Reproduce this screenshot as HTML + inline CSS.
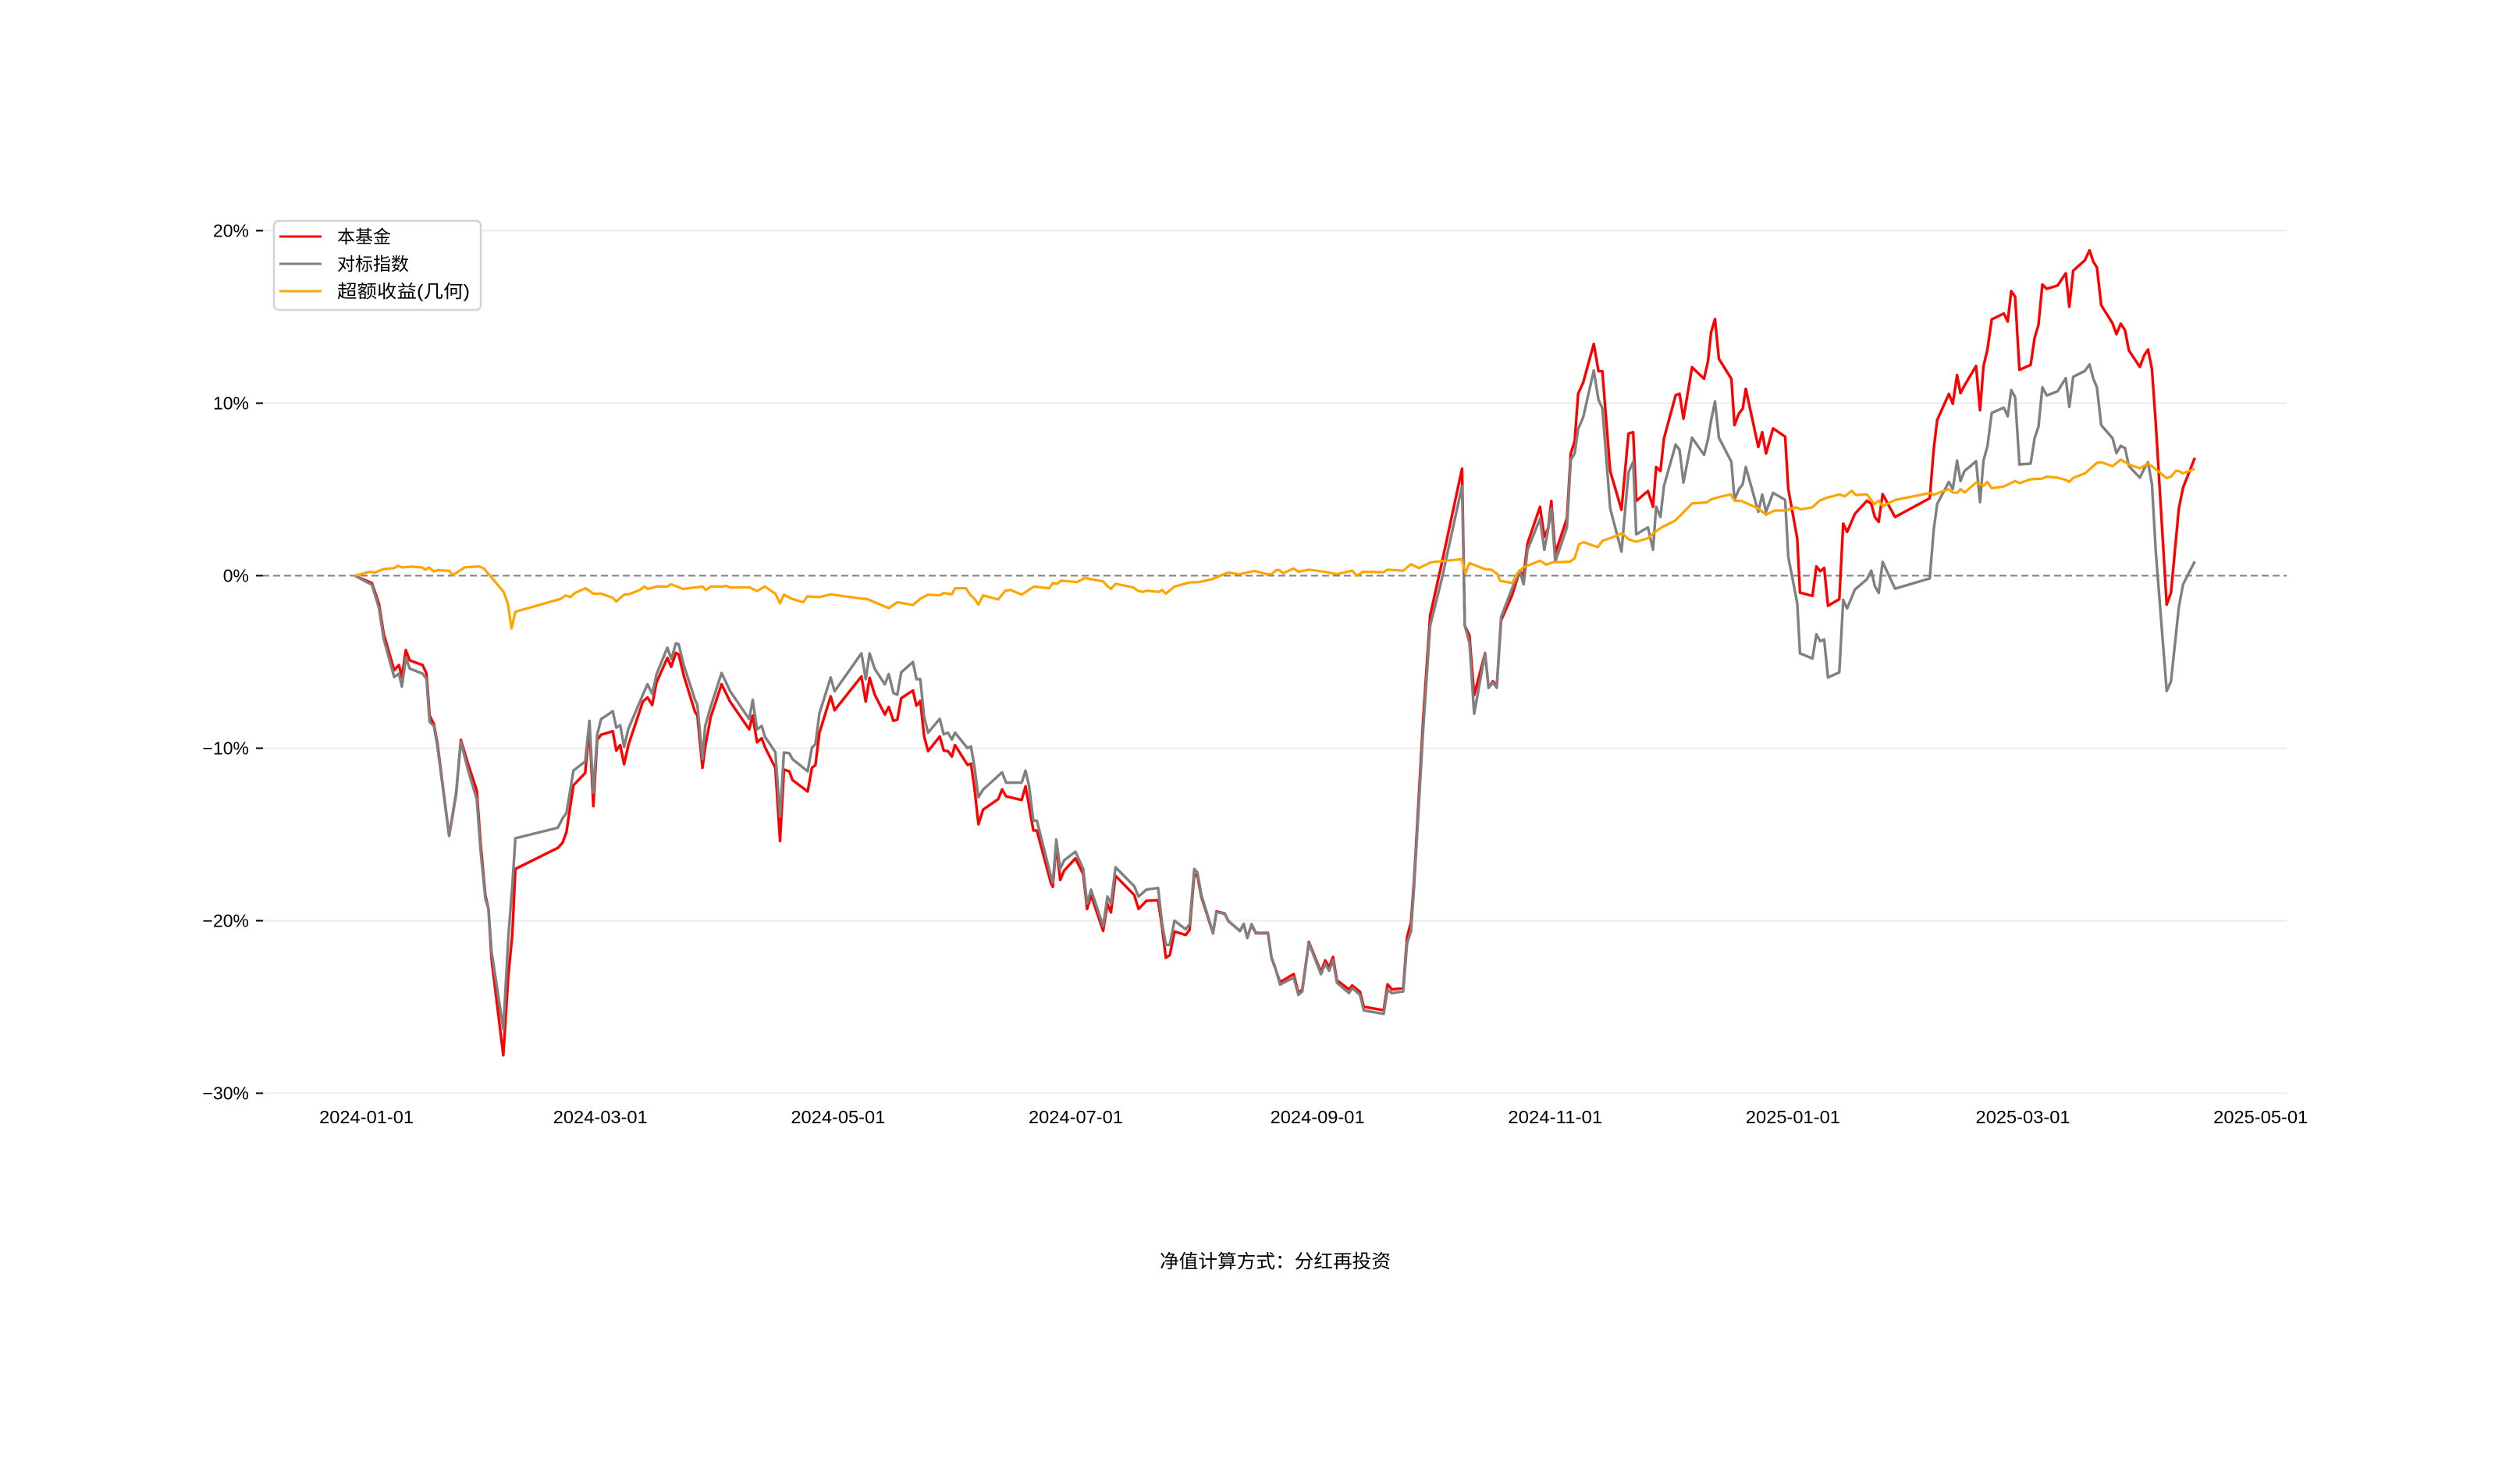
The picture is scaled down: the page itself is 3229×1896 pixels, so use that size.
<!DOCTYPE html>
<html><head><meta charset="utf-8"><title>净值走势</title>
<style>
html,body{margin:0;padding:0;background:#fff;}
svg{display:block;font-family:"Liberation Sans","Noto Sans CJK SC",sans-serif;}
</style></head>
<body>
<svg id="chart" width="3229" height="1896" viewBox="0 0 3229 1896" xmlns="http://www.w3.org/2000/svg">
<rect width="3229" height="1896" fill="#fff"/>
<g id="grid"></g>
<g id="yaxis"></g>
<g id="xaxis"></g>
<g id="series"></g>
<g>
<rect x="351" y="283" width="265" height="114" rx="6" fill="#fff" fill-opacity="0.85" stroke="#d3d3d3" stroke-width="2.5"/>
<line x1="358" y1="303" x2="412" y2="303" stroke="#ff0000" stroke-width="3"/>
<text x="432" y="311" font-size="23" fill="#000">本基金</text>
<line x1="358" y1="338" x2="412" y2="338" stroke="#808080" stroke-width="3"/>
<text x="432" y="346" font-size="23" fill="#000">对标指数</text>
<line x1="358" y1="373" x2="412" y2="373" stroke="#ffa500" stroke-width="3"/>
<text x="432" y="381" font-size="23" fill="#000" textLength="170" lengthAdjust="spacingAndGlyphs">超额收益(几何)</text>
</g>
<text x="1634" y="1624" font-size="24" text-anchor="middle" fill="#000" textLength="296" lengthAdjust="spacingAndGlyphs">净值计算方式：分红再投资</text>
</svg>
<script>
// day offsets from 2024-01-01
const fundDays = [-3.0,1.4,3.2,4.4,7.1,8.3,9.1,10.1,11.1,14.4,15.4,16.2,17.3,18.2,21.2,23.0,24.2,26.1,28.3,29.3,30.5,31.3,32.1,35.1,36.4,37.4,38.2,49.1,50.3,51.3,53.1,56.1,57.2,58.2,59.2,60.2,63.2,64.1,65.1,66.1,67.2,70.9,72.1,73.3,74.4,77.2,78.2,79.4,80.1,81.4,84.3,84.9,86.2,86.9,88.3,91.1,93.3,98.2,99.1,100.2,101.4,102.2,104.9,106.1,107.1,108.5,109.3,113.2,114.3,115.2,
116.2,119.1,120.1,127.0,128.1,129.1,130.4,133.0,134.0,135.2,136.2,137.2,140.2,141.1,142.1,143.1,144.1,147.1,148.1,149.2,150.2,151.0,154.2,155.1,156.0,157.0,158.2,162.1,163.1,164.1,168.1,169.1,170.0,171.1,172.0,175.6,176.1,177.0,178.0,179.0,181.9,183.9,184.9,185.9,189.0,190.1,191.0,192.2,197.0,198.1,200.1,203.1,204.1,205.1,206.1,207.3,210.2,211.2,212.4,213.2,214.2,217.2,218.1,220.2,221.1,224.1,225.1,226.0,227.1,228.2,231.3,232.2,233.0,234.4,237.9,
239.1,240.1,241.8,244.9,246.0,247.0,248.0,249.0,252.1,252.9,254.9,255.9,261.0,262.0,263.1,266.0,267.0,268.0,268.8,271.1,272.9,275.9,281.1,281.8,283.0,284.2,287.0,287.9,289.0,290.0,291.1,294.0,295.9,296.9,297.9,301.1,302.2,303.2,304.0,305.0,308.0,309.0,310.0,310.9,312.2,314.9,316.1,317.1,319.1,322.0,323.8,325.0,325.8,328.8,330.1,330.9,332.0,332.9,335.9,336.9,337.9,340.1,343.2,344.2,345.0,346.0,347.0,350.2,351.0,352.1,353.1,353.9,357.1,358.1,359.1,
360.9,364.0,364.8,367.1,367.8,371.0,372.0,373.0,374.0,375.0,377.9,378.9,379.9,381.9,385.0,386.1,387.0,388.0,389.0,392.2,401.1,402.1,403.0,406.0,407.0,408.1,409.0,410.0,413.0,414.0,414.9,415.9,417.0,420.1,421.1,422.0,423.0,424.1,427.0,428.0,429.0,430.0,431.1,433.9,436.0,436.9,437.9,440.9,442.1,443.1,444.0,445.1,448.0,449.0,450.1,451.2,452.2,455.0,456.1,457.1,458.1,459.1,461.9,463.0,465.0,466.1,469.1];
// 本基金 cumulative return (%)
const fundValues = [0,-0.43,-1.64,-3.36,-5.48,-5.18,-5.88,-4.31,-4.91,-5.18,-5.68,-8.11,-8.61,-9.72,-15.08,-12.65,-9.52,-10.93,-12.45,-15.58,-18.51,-19.32,-22.25,-27.8,-23.16,-20.83,-17.0,-15.78,-15.48,-14.87,-12.15,-11.44,-8.81,-13.36,-9.52,-9.22,-9.02,-10.13,-9.82,-10.93,-9.82,-7.30,-7.06,-7.50,-6.19,-4.77,-5.28,-4.47,-4.57,-5.78,-7.90,-8.11,-11.14,-9.92,-8.21,-6.29,-7.30,-8.91,-8.11,-9.66,-9.42,-9.92,-11.14,-15.38,-11.24,-11.34,-11.84,-12.51,-11.14,-10.97,
-9.12,-6.99,-7.80,-5.84,-7.30,-5.92,-6.89,-8.05,-7.60,-8.41,-8.35,-7.10,-6.65,-7.54,-7.26,-9.32,-10.17,-9.32,-10.13,-10.17,-10.49,-9.82,-10.97,-10.89,-12.35,-14.41,-13.56,-12.95,-12.39,-12.79,-13.0,-12.21,-13.36,-14.77,-14.77,-17.8,-18.04,-15.58,-17.64,-17.1,-16.39,-17.3,-19.32,-18.51,-20.59,-19.01,-19.52,-17.4,-18.51,-19.32,-18.85,-18.81,-20.33,-22.15,-22.0,-20.63,-20.83,-20.53,-17.3,-17.4,-18.61,-20.73,-19.46,-19.58,-20.02,-20.59,-20.19,-20.99,-20.23,-20.73,-20.73,-22.15,-22.65,-23.56,-23.09,
-24.2,-23.98,-21.23,-22.97,-22.3,-22.7,-22.1,-23.46,-23.98,-23.75,-24.12,-24.99,-25.19,-23.69,-23.98,-23.92,-20.94,-20.08,-17.62,-8.38,-2.31,0.72,6.21,-2.89,-3.47,-6.93,-4.48,-6.50,-6.12,-6.41,-2.6,-1.10,0.29,0.0,1.88,3.99,2.26,2.75,4.33,1.3,3.32,7.08,7.8,10.55,11.21,13.44,11.85,11.85,6.07,3.82,8.24,8.32,4.33,4.91,3.99,6.30,6.07,7.95,10.46,10.55,9.1,12.08,11.41,12.42,14.1,14.88,12.57,11.41,8.73,9.39,9.68,10.83,7.46,8.32,7.08,
8.54,8.06,5.02,2.16,-0.98,-1.17,0.54,0.26,0.45,-1.74,-1.36,3.02,2.54,3.59,4.35,4.16,3.40,3.12,4.73,3.40,4.49,7.30,9.02,10.54,9.97,11.63,10.58,11.02,12.16,9.59,12.16,13.11,14.86,15.2,14.73,16.5,16.16,11.93,12.22,13.78,14.54,16.88,16.63,16.82,17.53,15.59,17.68,18.29,18.86,18.19,17.87,15.68,14.63,14.0,14.61,14.23,13.05,12.1,12.77,13.11,11.97,8.83,-1.68,-0.98,3.88,5.11,6.83];
// 对标指数 cumulative return (%), same dates
const indexValues = [0,-0.53,-1.88,-3.66,-5.88,-5.68,-6.43,-4.77,-5.38,-5.68,-5.99,-8.47,-8.71,-9.92,-15.08,-12.55,-9.62,-11.3,-12.95,-16.0,-18.71,-19.32,-21.8,-26.29,-20.93,-18.0,-15.22,-14.61,-14.07,-13.76,-11.30,-10.77,-8.41,-12.59,-9.22,-8.31,-7.86,-8.81,-8.67,-9.92,-8.87,-6.9,-6.29,-6.85,-5.72,-4.17,-4.83,-3.92,-3.97,-5.18,-7.20,-7.50,-10.63,-8.71,-7.60,-5.64,-6.69,-8.31,-7.20,-8.91,-8.71,-9.32,-10.23,-13.96,-10.25,-10.29,-10.63,-11.34,-9.96,-9.76,
-8.0,-5.9,-6.7,-4.5,-6.0,-4.5,-5.4,-6.3,-5.7,-6.8,-6.9,-5.6,-5.0,-6.0,-6.0,-8.2,-9.1,-8.3,-9.2,-9.1,-9.5,-9.1,-10.0,-9.9,-11.1,-12.85,-12.4,-11.6,-11.4,-12.0,-12.0,-11.3,-12.2,-14.2,-14.2,-17.4,-17.8,-15.3,-17.0,-16.5,-16.0,-17.0,-19.0,-18.2,-20.3,-18.6,-19.0,-16.9,-18.0,-18.6,-18.2,-18.1,-20.1,-21.4,-21.4,-20.0,-20.5,-20.2,-17.0,-17.2,-18.5,-20.7,-19.5,-19.6,-20.0,-20.6,-20.2,-21.0,-20.2,-20.7,-20.7,-22.1,-22.6,-23.7,-23.3,
-24.3,-24.1,-21.3,-23.1,-22.5,-22.9,-22.3,-23.6,-24.2,-23.9,-24.3,-25.2,-25.4,-24.0,-24.2,-24.1,-21.3,-20.6,-18.0,-9.0,-2.9,-0.2,5.2,-2.9,-3.9,-8.0,-4.5,-6.5,-6.2,-6.5,-2.4,-0.7,0.3,-0.5,1.5,3.3,1.5,2.7,3.9,0.8,2.8,6.7,7.1,8.5,9.2,11.9,10.2,9.7,3.9,1.4,6.0,6.6,2.4,2.8,1.5,4.0,3.4,5.2,7.6,7.3,5.4,8.0,7.0,7.9,9.0,10.1,8.0,6.6,4.4,5.0,5.3,6.3,3.7,4.7,3.7,
4.8,4.4,1.1,-1.6,-4.5,-4.8,-3.4,-3.8,-3.7,-5.9,-5.6,-1.4,-1.9,-0.8,-0.2,0.3,-0.6,-1.0,0.8,-0.75,-0.16,2.64,4.16,5.44,5.02,6.67,5.49,6.06,6.64,4.26,6.69,7.5,9.44,9.74,9.24,10.77,10.35,6.45,6.5,7.97,8.64,10.92,10.45,10.69,11.45,9.78,11.53,11.87,12.25,11.4,10.92,8.73,7.97,7.11,7.53,7.4,6.35,5.68,6.2,6.58,5.3,1.4,-6.69,-6.12,-1.84,-0.5,0.83];
// 超额收益(几何) (%)
const excessDays = [-3.0,0.8,2.2,4.3,7.1,8.1,9.1,11.5,14.2,15.2,16.0,17.3,18.2,21.2,22.2,23.8,25.2,28.9,30.1,31.7,35.2,36.3,37.2,38.2,49.9,51.1,52.3,53.5,56.2,58.2,60.2,63.2,64.1,66.1,67.3,70.1,71.3,72.2,74.4,77.2,78.2,81.2,86.2,87.1,88.3,91.1,92.3,93.3,98.2,100.2,102.2,104.9,106.1,107.1,109.1,112.1,113.1,116.2,
119.1,127.3,128.3,134.0,136.2,140.2,142.1,144.1,147.1,148.1,150.2,151.0,153.8,155.0,156.0,157.0,158.2,162.1,163.9,165.3,168.1,171.2,175.2,176.1,177.2,178.2,182.3,184.3,189.0,190.2,191.0,192.2,196.6,198.1,199.3,200.1,203.3,204.1,205.1,207.3,211.2,213.6,217.2,219.1,221.1,223.9,227.9,231.0,232.2,233.4,234.2,235.2,237.9,
239.1,241.8,245.8,249.0,252.9,254.1,255.7,260.9,262.0,266.0,268.0,270.0,273.1,281.0,282.0,283.0,287.0,288.6,290.2,290.8,294.0,295.3,296.9,298.9,301.1,302.7,304.4,308.8,310.0,311.1,312.3,315.9,317.1,319.1,322.2,323.8,325.8,328.8,330.5,332.5,335.7,338.5,340.1,343.9,345.0,347.2,350.0,351.1,352.7,357.1,359.1,
361.3,364.0,366.8,368.0,371.0,372.8,374.7,377.9,379.3,381.1,382.1,385.0,386.9,388.0,389.0,392.2,401.1,402.1,405.9,407.0,408.1,409.0,410.1,413.0,414.9,415.9,417.0,420.1,423.0,424.1,427.0,430.0,431.1,433.9,436.0,436.9,437.9,440.9,444.0,445.1,448.0,450.1,452.2,455.0,457.1,458.1,461.9,463.0,464.2,465.0,466.1,469.1];
const excessValues = [0,0.22,0.18,0.38,0.44,0.58,0.48,0.52,0.48,0.34,0.48,0.24,0.32,0.28,0.03,0.28,0.48,0.54,0.42,0.0,-0.94,-1.64,-3.06,-2.09,-1.34,-1.14,-1.24,-1.0,-0.73,-1.04,-1.04,-1.28,-1.5,-1.1,-1.08,-0.83,-0.63,-0.77,-0.63,-0.63,-0.49,-0.77,-0.63,-0.83,-0.63,-0.63,-0.59,-0.69,-0.67,-0.89,-0.63,-1.04,-1.6,-1.1,-1.34,-1.54,-1.2,-1.24,
-1.08,-1.34,-1.34,-1.88,-1.54,-1.70,-1.34,-1.1,-1.14,-1.0,-1.08,-0.73,-0.73,-1.14,-1.34,-1.68,-1.14,-1.38,-0.87,-0.83,-1.1,-0.63,-0.73,-0.43,-0.47,-0.29,-0.37,-0.13,-0.33,-0.63,-0.77,-0.47,-0.67,-0.89,-0.94,-0.87,-0.94,-0.83,-1.04,-0.63,-0.39,-0.37,-0.19,0.0,0.18,0.08,0.28,0.08,0.08,0.32,0.32,0.14,0.42,
0.23,0.35,0.23,0.09,0.29,0.0,0.23,0.2,0.35,0.29,0.67,0.44,0.78,0.96,0.15,0.73,0.38,0.35,0.09,-0.29,-0.43,0.15,0.49,0.67,0.87,0.64,0.78,0.81,1.01,1.82,1.94,1.65,2.02,2.17,2.46,2.11,1.97,2.17,2.51,2.83,3.18,3.81,4.19,4.25,4.42,4.57,4.71,4.34,4.34,3.90,3.53,
3.78,3.78,3.97,3.84,3.97,4.35,4.52,4.71,4.6,4.92,4.68,4.71,4.14,4.35,4.03,4.39,4.79,4.69,5.02,4.83,4.79,5.02,4.83,5.4,5.21,5.44,5.07,5.17,5.49,5.36,5.59,5.63,5.74,5.68,5.55,5.44,5.67,5.93,6.54,6.58,6.35,6.73,6.45,6.22,6.5,6.35,5.65,5.74,6.07,6.07,5.93,6.2];
const yTicks = [20,10,0,-10,-20,-30];
const yTickLabels = ["20%","10%","0%","−10%","−20%","−30%"];
const xTickDays = [0,60,121,182,244,305,366,425,486];
const xTickLabels = ["2024-01-01","2024-03-01","2024-05-01","2024-07-01","2024-09-01","2024-11-01","2025-01-01","2025-03-01","2025-05-01"];

const NS = "http://www.w3.org/2000/svg";
function xs(d){ return 469.6 + d * 4.994; }
function ys(v){ return 737.5 - v * 22.1; }
const PL = 336, PR = 2930;
function mk(tag, attrs, parent){ const e = document.createElementNS(NS, tag); for (const k in attrs) e.setAttribute(k, attrs[k]); parent.appendChild(e); return e; }

const grid = document.getElementById('grid');
const yaxis = document.getElementById('yaxis');
const xaxis = document.getElementById('xaxis');
const series = document.getElementById('series');

yTicks.forEach((t, i) => {
  const y = ys(t);
  if (t !== 0) {
    const g = mk('line', {x1: PL, x2: PR, y1: y, y2: y, stroke: '#ebebeb', 'stroke-width': 2}, grid);
    
    
  }
  const tk = mk('line', {x1: 328, x2: 337, y1: y, y2: y, stroke: '#000', 'stroke-width': 2}, yaxis);
  
  
  const tx = mk('text', {x: 319, y: y + 8, 'font-size': 23, 'text-anchor': 'end', fill: '#000'}, yaxis);
  tx.textContent = yTickLabels[i];
  
  
});

xTickDays.forEach((d, i) => {
  const tx = mk('text', {x: xs(d), y: 1439, 'font-size': 23, 'text-anchor': 'middle', fill: '#000', textLength: 121, lengthAdjust: 'spacingAndGlyphs'}, xaxis);
  tx.textContent = xTickLabels[i];
  
  
});

const zl = mk('line', {x1: PL, x2: PR, y1: ys(0), y2: ys(0), stroke: '#808080', 'stroke-width': 2, 'stroke-dasharray': '9,5'}, grid);



function path(days, vals, color, w) {
  let d = '';
  for (let i = 0; i < days.length; i++) d += (i ? 'L' : 'M') + xs(days[i]).toFixed(1) + ',' + ys(vals[i]).toFixed(1);
  return mk('path', {d: d, fill: 'none', stroke: color, 'stroke-width': w, 'stroke-linejoin': 'round'}, series);
}
const p1 = path(fundDays, fundValues, '#ff0000', 3.4);


const p2 = path(fundDays, indexValues, '#808080', 3.4);


const p3 = path(excessDays, excessValues, '#ffa500', 3.2);


</script>
</body></html>
